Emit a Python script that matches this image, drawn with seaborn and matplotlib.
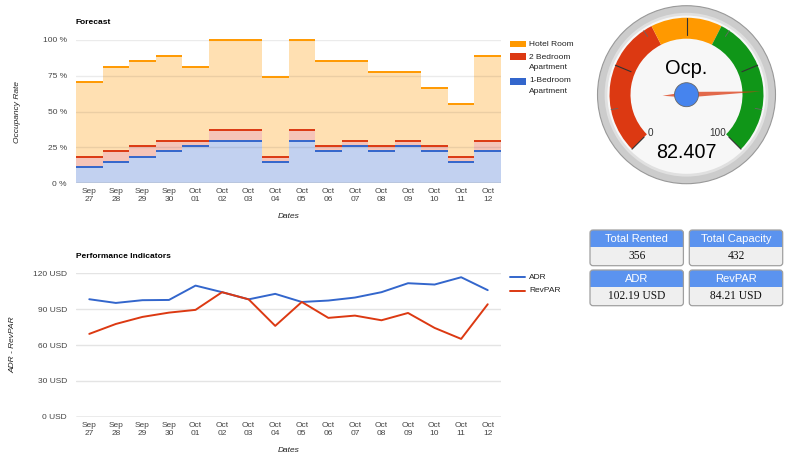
import numpy as np
import pandas as pd
import matplotlib
matplotlib.use("Agg")
import matplotlib.pyplot as plt
import seaborn as sns
from matplotlib.patches import Wedge, Circle, Polygon, FancyBboxPatch, Rectangle

# ---------------- data ----------------
date_labels = ["Sep\n27", "Sep\n28", "Sep\n29", "Sep\n30", "Oct\n01", "Oct\n02", "Oct\n03", "Oct\n04",
               "Oct\n05", "Oct\n06", "Oct\n07", "Oct\n08", "Oct\n09", "Oct\n10", "Oct\n11", "Oct\n12"]
one_bed = [11.1, 14.8, 18.5, 22.2, 25.9, 29.6, 29.6, 14.8, 29.6, 22.2, 25.9, 22.2, 25.9, 22.2, 14.8, 22.2]
two_bed = [7.4, 7.4, 7.4, 7.4, 3.7, 7.4, 7.4, 3.7, 7.4, 3.7, 3.7, 3.7, 3.7, 3.7, 3.7, 7.4]
hotel = [51.9, 59.3, 59.3, 59.3, 51.9, 63.0, 63.0, 55.6, 63.0, 59.3, 55.6, 51.9, 48.1, 40.7, 37.0, 59.3]
occ_series = ["Hotel Room", "2 Bedroom\nApartment", "1-Bedroom\nApartment"]

adr = [98.3, 95.2, 97.5, 97.7, 109.7, 104.2, 98.2, 102.8, 96.0, 97.2, 99.7, 104.2, 111.7, 110.6, 116.7, 105.9]
revpar = [69.3, 77.6, 83.5, 87.1, 89.4, 104.2, 98.2, 76.0, 96.0, 82.7, 84.6, 80.7, 86.8, 74.3, 65.1, 94.1]
perf_series = ["ADR", "RevPAR"]

occ_ticks = [0, 25, 50, 75, 100]
usd_ticks = [0, 30, 60, 90, 120]

gauge_label = "Ocp."
gauge_value = 82.407
gauge_ranges = [(0, 40), (40, 60), (60, 100)]
gauge_major = [0, 25, 50, 75, 100]
gauge_minor = [12.5, 37.5, 62.5, 87.5]

box_titles = ["Total Rented", "Total Capacity", "ADR", "RevPAR"]
box_values = ["356", "432", "102.19 USD", "84.21 USD"]

# ---------------- style ----------------
sns.set_theme(style="white")
plt.rcParams["font.family"] = ["Liberation Sans", "DejaVu Sans"]

BLUE, RED, ORANGE, GREEN = "#3366CC", "#DC3912", "#FF9900", "#109618"
FILL = {"hotel": "#FFE0B2", "two": "#F5C4B8", "one": "#C2D1F0"}
TICK_C = "#444444"
FS = 6

fig = plt.figure(figsize=(8, 4.55), dpi=100)


def px_axes(l, t, r, b):
    return fig.add_axes([l / 800, 1 - b / 455, (r - l) / 800, (b - t) / 455])


pos = np.arange(len(date_labels))

# ---------------- Forecast (stepped stacked area) ----------------
ax1 = px_axes(76, 40, 501, 183.3)
one_top = np.array(one_bed)
two_top = one_top + np.array(two_bed)
total = two_top + np.array(hotel)
for vals, fill in [(total, FILL["hotel"]), (two_top, FILL["two"]), (one_top, FILL["one"])]:
    sns.barplot(x=date_labels, y=vals, color=fill, saturation=1, width=1.0,
                linewidth=0, errorbar=None, ax=ax1, zorder=1)
for v in occ_ticks[1:]:
    ax1.axhline(v, color="black", alpha=0.08, lw=1, zorder=1.5)
ax1.axhline(0, color="#999999", lw=1, zorder=3)
for vals, col in [(one_top, BLUE), (two_top, RED), (total, ORANGE)]:
    ax1.hlines(vals, pos - 0.5, pos + 0.5, color=col, lw=1.4, zorder=2.5, clip_on=False)
ax1.set_xlim(-0.5, len(pos) - 0.5)
ax1.set_ylim(0, 100)
ax1.set_yticks(occ_ticks)
ax1.set_yticklabels([f"{v} %" for v in occ_ticks])
ax1.set_xticks(pos)
ax1.set_xticklabels(date_labels)
ax1.set_xlabel("Dates", style="italic", fontsize=FS, color="#222222")
ax1.set_ylabel("Occupancy Rate", style="italic", fontsize=FS, color="#222222")
ax1.xaxis.set_label_coords(0.5, -0.205)
ax1.yaxis.set_label_coords(-0.129, 0.5)

# ---------------- Performance Indicators ----------------
ax2 = px_axes(76, 273.3, 501, 416.7)
df = pd.DataFrame({
    "pos": np.concatenate([pos, pos]),
    "value": adr + revpar,
    "series": [perf_series[0]] * len(adr) + [perf_series[1]] * len(revpar),
})
sns.lineplot(data=df, x="pos", y="value", hue="series", palette={"ADR": BLUE, "RevPAR": RED},
             lw=1.4, legend=False, sort=False, ax=ax2, zorder=3)
for v in usd_ticks[1:]:
    ax2.axhline(v, color="#e4e4e4", lw=1, zorder=0)
ax2.axhline(0, color="#999999", lw=1, zorder=2)
ax2.set_xlim(-0.5, len(pos) - 0.5)
ax2.set_ylim(0, 120)
ax2.set_yticks(usd_ticks)
ax2.set_yticklabels([f"{v} USD" for v in usd_ticks])
ax2.set_xticks(pos)
ax2.set_xticklabels(date_labels)
ax2.set_xlabel("Dates", style="italic", fontsize=FS, color="#222222")
ax2.set_ylabel("ADR - RevPAR", style="italic", fontsize=FS, color="#222222")
ax2.xaxis.set_label_coords(0.5, -0.21)
ax2.yaxis.set_label_coords(-0.140, 0.5)

for ax in (ax1, ax2):
    for s in ax.spines.values():
        s.set_visible(False)
    ax.tick_params(axis="y", length=0, pad=6.5, labelsize=FS, labelcolor=TICK_C)
    ax.tick_params(axis="x", length=0, pad=3.6, labelsize=FS, labelcolor=TICK_C)
    ax.set_facecolor("none")

# ---------------- Gauge ----------------
gx = px_axes(591.5, -0.3, 781.5, 189.7)
gx.set_xlim(-95, 95)
gx.set_ylim(-95, 95)
gx.axis("off")


def phi(v):
    return 225 - 2.7 * v


gx.add_patch(Circle((0, 0), 89, fc="#cccccc", ec="#999999", lw=0.8))
gx.add_patch(Circle((0, 0), 80.5, fc="#f7f7f7", ec="#e0e0e0", lw=2))
for (a, b), col in zip(gauge_ranges, [RED, ORANGE, GREEN]):
    gx.add_patch(Wedge((0, 0), 77, phi(b), phi(a), width=21, fc=col, ec="none"))
for v in gauge_major:
    t = np.radians(phi(v))
    gx.plot([60 * np.cos(t), 77 * np.cos(t)], [60 * np.sin(t), 77 * np.sin(t)], color="#333333", lw=0.8)
for v in gauge_minor:
    t = np.radians(phi(v))
    gx.plot([70 * np.cos(t), 77 * np.cos(t)], [70 * np.sin(t), 77 * np.sin(t)], color="#666666", lw=0.6)
gx.text(-36.5, -41, str(gauge_major[0]), fontsize=7.2, color="#333333", ha="center", va="baseline")
gx.text(31.2, -41, str(gauge_major[-1]), fontsize=7.2, color="#333333", ha="center", va="baseline")
gx.text(0, 20.7, gauge_label, fontsize=14.4, color="#000000", ha="center", va="baseline")
gx.text(0, -63.6, f"{gauge_value}", fontsize=14.2, color="#000000", ha="center", va="baseline")
t = np.radians(phi(gauge_value))
u = np.array([np.cos(t), np.sin(t)])
n = np.array([-np.sin(t), np.cos(t)])
needle = [-24 * u, 2.8 * n, 75 * u, -2.8 * n]
gx.add_patch(Polygon(needle, closed=True, fc=RED, alpha=0.75, ec="none"))
gx.add_patch(Circle((0, 0), 12, fc="#4684EE", ec="#666666", lw=0.6))

# ---------------- overlay: titles, legends, boxes ----------------
ov = fig.add_axes([0, 0, 1, 1])
ov.set_xlim(0, 800)
ov.set_ylim(455, 0)
ov.axis("off")

ov.text(76, 22.7, "Forecast", fontsize=FS, fontweight="bold", color="#000000", va="center", ha="left")
ov.text(76, 256, "Performance Indicators", fontsize=FS, fontweight="bold", color="#000000", va="center", ha="left")

# forecast legend
leg_rows = [(40.7, [44.0]), (53.3, [57.3, 67.3]), (78.3, [80.7, 91.7])]
for (sy, tys), name, col in zip(leg_rows, occ_series, [ORANGE, RED, BLUE]):
    ov.add_patch(Rectangle((510, sy), 16, 6.8, fc=col, ec="none"))
    for line, ty in zip(name.split("\n"), tys):
        ov.text(529.3, ty, line, fontsize=FS, color="#222222", va="center", ha="left")

# performance legend
for name, col, ly in zip(perf_series, [BLUE, RED], [277.3, 291.0]):
    ov.plot([510, 525], [ly, ly], color=col, lw=1.4)
    ov.text(529.3, ly, name, fontsize=FS, color="#222222", va="center", ha="left")

# info boxes
cols_x = [590, 689.3]
rows_y = [230, 270]
bw, bh, hh = 93.4, 35.7, 16.7
HEAD, BODY = "#5B93EF", "#EFEFEF"
for i, (title, val) in enumerate(zip(box_titles, box_values)):
    x = cols_x[i % 2]
    y = rows_y[i // 2]
    ov.add_patch(FancyBboxPatch((x, y), bw, bh, boxstyle="round,pad=0,rounding_size=3", fc=BODY, ec="none"))
    ov.add_patch(FancyBboxPatch((x, y), bw, hh + 3, boxstyle="round,pad=0,rounding_size=3", fc=HEAD, ec="none"))
    ov.add_patch(Rectangle((x, y + hh), bw, 3, fc=BODY, ec="none"))
    ov.add_patch(FancyBboxPatch((x, y), bw, bh, boxstyle="round,pad=0,rounding_size=3", fc="none",
                                ec="#a0a0a0", lw=0.9))
    ov.text(x + bw / 2, y + hh / 2 + 0.5, title, fontsize=8, color="white", ha="center", va="center")
    ov.text(x + bw / 2, y + hh + (bh - hh) / 2, val, fontsize=8.3, color="#111111", ha="center",
            va="center", family=["Liberation Serif", "DejaVu Serif"])

fig.savefig("out.png", dpi=100)
